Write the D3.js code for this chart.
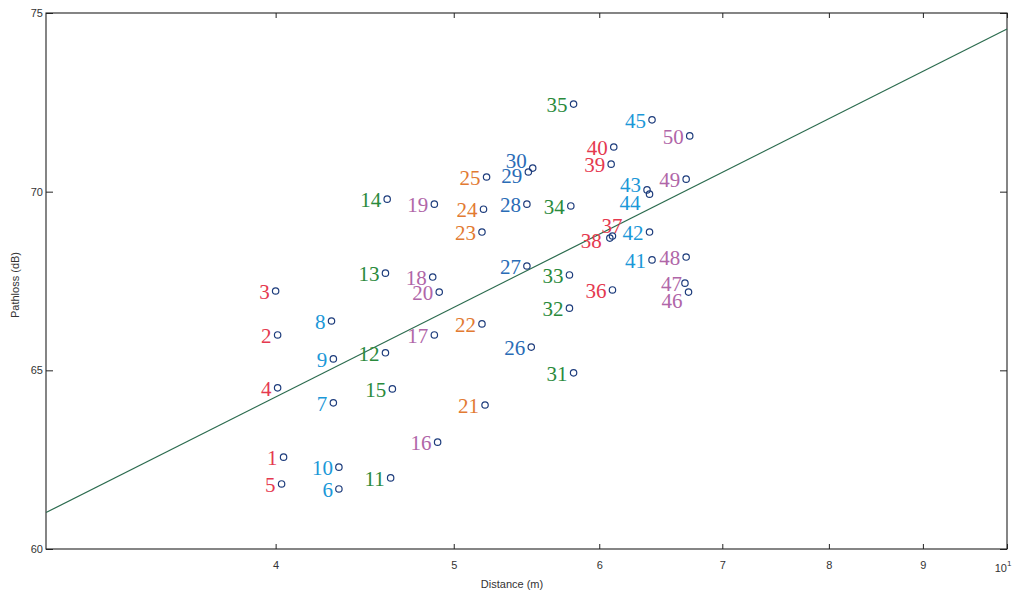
<!DOCTYPE html>
<html>
<head>
<meta charset="utf-8">
<script src="https://cdn.jsdelivr.net/npm/d3@7/dist/d3.min.js"></script>
<style>
  html, body { margin: 0; padding: 0; background: #ffffff; }
  svg { display: block; }
  .tick text { font-family: "Liberation Sans", Arial, sans-serif; }
</style>
</head>
<body>
<svg id="chart" width="1020" height="595"></svg>
<script>
// ---- data ----
const pointIds = [1,2,3,4,5,6,7,8,9,10,11,12,13,14,15,16,17,18,19,20,21,22,23,24,25,
                  26,27,28,29,30,31,32,33,34,35,36,37,38,39,40,41,42,43,44,45,46,47,48,49,50];
const distances = [4.04,4.01,4.00,4.01,4.03, 4.33,4.30,4.29,4.30,4.33,
                   4.62,4.59,4.59,4.60,4.63, 4.90,4.88,4.87,4.88,4.91,
                   5.20,5.18,5.18,5.19,5.21, 5.51,5.48,5.48,5.49,5.52,
                   5.81,5.78,5.78,5.79,5.81, 6.10,6.10,6.08,6.09,6.11,
                   6.41,6.39,6.37,6.39,6.41, 6.71,6.68,6.69,6.69,6.72];
const pathloss = [62.57,65.99,67.22,64.51,61.82, 61.68,64.09,66.38,65.32,62.29,
                  61.99,65.49,67.72,69.79,64.48, 62.99,65.99,67.61,69.65,67.19,
                  64.03,66.30,68.87,69.51,70.41, 65.65,67.92,69.65,70.55,70.66,
                  64.93,66.74,67.67,69.60,72.45, 67.25,68.76,68.70,70.77,71.25,
                  68.09,68.87,70.05,69.93,72.01, 67.19,67.44,68.17,70.35,71.56];
// colour group of each block of five points
const groupColors = ["#e5394f","#1b98d8","#2a8a3c","#b066a8","#e27a32",
                     "#2a6cb6","#2a8a3c","#e5394f","#1b98d8","#b066a8"];
// fitted regression line end points
const fitDistance = [3, 10];
const fitPathloss = [61.02, 74.55];
const xTickValues = [4,5,6,7,8,9,10];
const yTickValues = [60,65,70,75];

// label nudges for overlapping labels (pixels)
const labelNudge = {29:[0,3],30:[0,-8],37:[16,-11],38:[-2,2],43:[0,-6],44:[-3,8],46:[0,8],47:[3,0]};

// ---- layout ----
const L = 46, R = 1007, T = 13, B = 549;
const svg = d3.select("#chart");

const x = d3.scaleLog().domain([3, 10]).range([L, R]);
const y = d3.scaleLinear().domain([60, 75]).range([B, T]);

const axisColor = "#222";
const tickFont = "11px 'Liberation Sans', Arial, sans-serif";

// frame
svg.append("rect").attr("x", L).attr("y", T).attr("width", R - L).attr("height", B - T)
   .attr("fill", "none").attr("stroke", axisColor).attr("stroke-width", 1.1);

// bottom axis
const xFmt = d => d === 10 ? "" : String(d);
const gx = svg.append("g").attr("transform", `translate(0,${B})`)
  .call(d3.axisBottom(x).tickValues(xTickValues).tickFormat(xFmt).tickSizeInner(-5).tickSizeOuter(0).tickPadding(12));
gx.select(".domain").remove();
gx.selectAll(".tick line").attr("stroke", axisColor);
gx.selectAll(".tick text").attr("fill", "#333").style("font-size", "11px");
// 10^1 label
const t10 = svg.append("text").attr("x", x(10) - 4).attr("y", B + 23)
  .attr("text-anchor", "middle").attr("fill", "#333")
  .style("font", tickFont);
t10.append("tspan").text("10");
t10.append("tspan").attr("dy", -6).style("font-size", "8px").text("1");

// top ticks
const gxt = svg.append("g").attr("transform", `translate(0,${T})`)
  .call(d3.axisTop(x).tickValues(xTickValues).tickFormat("").tickSizeInner(-5).tickSizeOuter(0));
gxt.select(".domain").remove();
gxt.selectAll(".tick line").attr("stroke", axisColor);

// left axis
const gy = svg.append("g").attr("transform", `translate(${L},0)`)
  .call(d3.axisLeft(y).tickValues(yTickValues).tickFormat(d3.format("d")).tickSizeInner(-7).tickSizeOuter(0).tickPadding(3));
gy.select(".domain").remove();
gy.selectAll(".tick line").attr("stroke", axisColor);
gy.selectAll(".tick text").attr("fill", "#333").style("font-size", "11px");

// right ticks
const gyr = svg.append("g").attr("transform", `translate(${R},0)`)
  .call(d3.axisRight(y).tickValues(yTickValues).tickFormat("").tickSizeInner(-7).tickSizeOuter(0));
gyr.select(".domain").remove();
gyr.selectAll(".tick line").attr("stroke", axisColor);

// axis titles
svg.append("text").attr("x", 512).attr("y", 588).attr("text-anchor", "middle")
  .attr("fill", "#333").style("font", tickFont).text("Distance (m)");
svg.append("text").attr("transform", "translate(19,285) rotate(-90)").attr("text-anchor", "middle")
  .attr("fill", "#333").style("font", tickFont).text("Pathloss (dB)");

// fitted line
const fitData = fitDistance.map((d, i) => [d, fitPathloss[i]]);
svg.append("path").datum(fitData)
  .attr("d", d3.line().x(d => x(d[0])).y(d => y(d[1])))
  .attr("fill", "none").attr("stroke", "#2b6b4e").attr("stroke-width", 1.2);

// points
const pts = pointIds.map((id, i) => ({id, d: distances[i], pl: pathloss[i], color: groupColors[Math.floor(i / 5)]}));

svg.append("g").selectAll("text").data(pts).join("text")
  .attr("x", p => x(p.d) - 6 + (labelNudge[p.id] ? labelNudge[p.id][0] : 0))
  .attr("y", p => y(p.pl) + 8 + (labelNudge[p.id] ? labelNudge[p.id][1] : 0))
  .attr("text-anchor", "end")
  .attr("fill", p => p.color)
  .style("font", "21px 'Liberation Serif', 'Times New Roman', serif")
  .text(p => p.id);

svg.append("g").selectAll("circle").data(pts).join("circle")
  .attr("cx", p => x(p.d)).attr("cy", p => y(p.pl)).attr("r", 3.2)
  .attr("fill", "none").attr("stroke", "#1d3c7c").attr("stroke-width", 1.2);
</script>
</body>
</html>
